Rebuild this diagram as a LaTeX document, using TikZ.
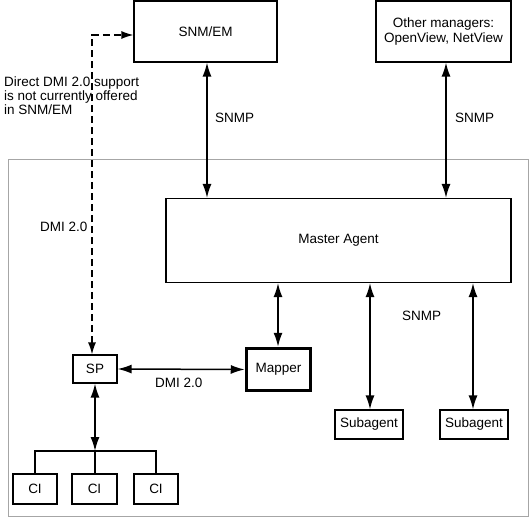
\documentclass[tikz,border=0pt]{standalone}
\usepackage{fontspec}
\setmainfont{Liberation Sans}
\usetikzlibrary{arrows.meta}
\begin{document}
\begin{tikzpicture}[x=1pt,y=-1pt,
  box/.style={draw,line width=1.2pt,inner sep=0pt,font=\fontsize{13.5}{15}\selectfont},
  lbl/.style={font=\fontsize{13.5}{14}\selectfont,inner sep=0pt},
  conn/.style={line width=1.5pt,{Latex[length=14pt,width=9pt]}-{Latex[length=14pt,width=9pt]}},
  dconn/.style={line width=1.4pt,dashed,dash pattern=on 7pt off 4pt,{Latex[length=12pt,width=8pt]}-{Latex[length=12pt,width=8pt]}},
  bus/.style={line width=1.3pt}]
\useasboundingbox (0,0) rectangle (529,518);
\draw[gray!70,line width=1pt] (8,160) rectangle (528.5,516.5);
% boxes
\node[box,minimum width=143pt,minimum height=61pt] (snm) at (205.5,31.5) {SNM/EM};
\node[box,minimum width=135pt,minimum height=61pt,align=center] (other) at (443.5,31.5) {Other managers:\\OpenView, NetView};
\node[box,minimum width=345pt,minimum height=84pt] (master) at (338.5,240.5) {Master Agent};
\node[box,line width=3.5pt,minimum width=64pt,minimum height=42pt] (mapper) at (278.5,369.5) {Mapper};
\node[box,minimum width=44pt,minimum height=28pt] (sp) at (95,369) {SP};
\node[box,minimum width=68pt,minimum height=29pt] (sub1) at (369,424.5) {Subagent};
\node[box,minimum width=68pt,minimum height=29pt] (sub2) at (474,424.5) {Subagent};
\node[box,minimum width=44pt,minimum height=30pt] (ci1) at (35,489) {CI};
\node[box,minimum width=45pt,minimum height=30pt] (ci2) at (94.5,489) {CI};
\node[box,minimum width=44pt,minimum height=30pt] (ci3) at (156,489) {CI};
% connectors
\draw[conn] (snm.south -| 207,0) -- (master.north -| 207,0);
\draw[conn] (other.south -| 446,0) -- (master.north -| 446,0);
\draw[conn] (master.south -| 278,0) -- (mapper.north -| 278,0);
\draw[conn] (master.south -| 370,0) -- (sub1.north -| 370,0);
\draw[conn] (master.south -| 473,0) -- (sub2.north -| 473,0);
\draw[conn] (sp.east) -- (mapper.west);
\coordinate (busc) at (95,451);
\draw[conn] (sp.south) -- (busc);
\draw[bus] (ci1.north) |- (busc) -| (ci3.north);
\draw[bus] (busc) -- (ci2.north -| busc);
\coordinate (dcorner) at (92,35);
\draw[dconn] (sp.north -| dcorner) -- (dcorner) -- (snm.west |- dcorner);
% labels
\node[lbl,anchor=west] (l1) at (215,118) {SNMP};
\node[lbl,anchor=west] (l2) at (455,118) {SNMP};
\node[lbl,anchor=west] (l3) at (402,316) {SNMP};
\node[lbl,anchor=west] (l4) at (155,383) {DMI 2.0};
\node[lbl,anchor=west] (l5) at (40,227) {DMI 2.0};
\node[lbl,anchor=north west,align=left] (note) at (4,77) {Direct DMI 2.0 support\\is not currently offered\\in SNM/EM};
\end{tikzpicture}
\end{document}
